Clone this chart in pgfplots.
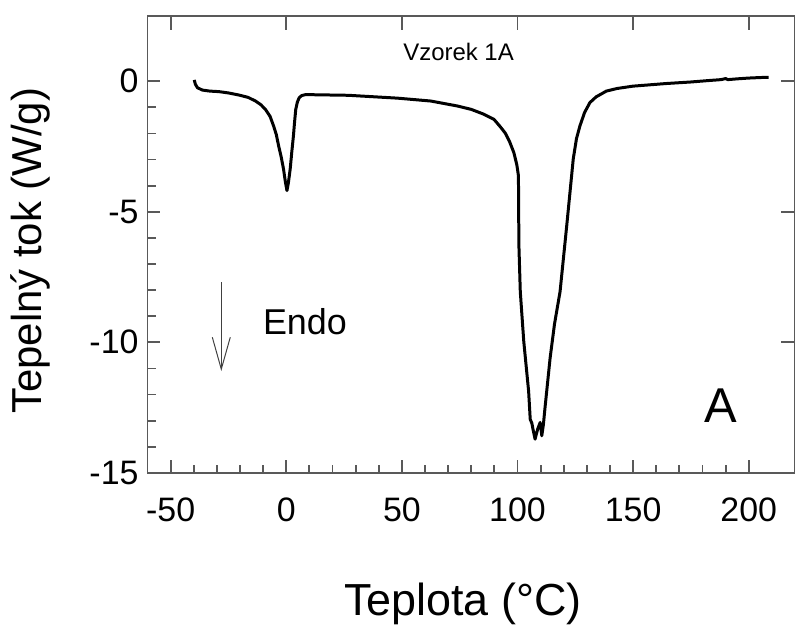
\documentclass[border=0pt]{standalone}
\usepackage{pgfplots}
\pgfplotsset{compat=1.18}
\usepackage{fontspec}
\setmainfont{Liberation Sans}
\usetikzlibrary{arrows.meta}

\pgfplotsset{
  dscbox/.style={
    scale only axis,
    width=324.5pt, height=229pt,
    xmin=-60, xmax=220,
    ymin=-15, ymax=2.5,
    axis line style={draw=black!65, line width=0.9pt},
    tick style={draw=black!65, line width=0.9pt},
    tick align=inside,
  }
}

\begin{document}
\begin{tikzpicture}
  % top and right: major ticks only, no labels
  \begin{axis}[
    dscbox,
    xtick={-50,0,...,200},
    ytick={-15,-10,-5,0},
    xtick pos=right, ytick pos=right,
    xticklabels={}, yticklabels={},
    major tick length=7pt,
  ]
  \end{axis}

  \begin{axis}[
    dscbox,
    xtick={-50,0,...,200},
    ytick={-15,-10,-5,0},
    minor x tick num=4,
    minor y tick num=4,
    xtick pos=left, ytick pos=left,
    major tick length=6.5pt,
    minor tick length=4pt,
    /pgf/number format/assume math mode=true,
    ticklabel style={font=\fontsize{17}{20}\selectfont},
    xticklabel shift=9pt,
    yticklabel shift=1pt,
    xlabel={Teplota (°C)},
    ylabel={Tepelný tok (W/g)},
    xlabel style={font=\fontsize{22.5}{26}\selectfont,
      at={(axis description cs:0.487,-0.312)}, anchor=base},
    ylabel style={font=\fontsize{21}{25}\selectfont,
      at={(axis description cs:-0.163,0.486)}, anchor=base},
    clip=false,
  ]
  \addplot[black, line width=1.5pt, line join=round] coordinates {
    (-39.8,0.05) (-39.3,-0.12) (-38.4,-0.25) (-36.3,-0.34) (-33,-0.38)
    (-29.1,-0.40) (-25,-0.45) (-20.5,-0.53) (-16.5,-0.62) (-13.3,-0.76)
    (-11,-0.90) (-9.0,-1.08) (-7,-1.35) (-5.5,-1.71) (-4.3,-2.05)
    (-3.3,-2.48) (-2.2,-2.90) (-1.2,-3.36) (-0.4,-3.85) (0.3,-4.19)
    (0.9,-3.9) (1.7,-3.36) (2.4,-2.7) (3.1,-2.09) (3.6,-1.55)
    (4.1,-1.08) (4.8,-0.80) (5.6,-0.63) (6.7,-0.55) (8.5,-0.51)
    (12.5,-0.52) (26.8,-0.54) (48.2,-0.65) (62.5,-0.76) (74,-0.95)
    (80,-1.08) (85,-1.25) (89.8,-1.46) (92.6,-1.75) (94.8,-2.0)
    (96.5,-2.3) (98.4,-2.73) (99.7,-3.2) (100.4,-3.62) (100.5,-5)
    (100.6,-6.28) (101.2,-8.06) (102.7,-9.96) (103.4,-10.6) (104.8,-11.87)
    (105.5,-12.95) (106.2,-13.1) (106.7,-13.33) (107.6,-13.71) (108.2,-13.5)
    (108.7,-13.33) (109.8,-13.07) (110.5,-13.58) (111.2,-13.14) (111.9,-12.50)
    (114.1,-10.60) (116,-9.3) (118.4,-8.06) (121.3,-5.52) (124.1,-2.98)
    (125.5,-2.2) (127,-1.71) (129,-1.2) (131.3,-0.82) (134,-0.6)
    (138.4,-0.38) (143,-0.28) (149.9,-0.19) (164.2,-0.09) (175,-0.03)
    (182,0.02) (188,0.06) (190,0.10) (191,0.06) (195,0.09)
    (200,0.12) (205,0.14) (208.6,0.15)
  };
  \node[anchor=base, font=\fontsize{12}{14}\selectfont] at (axis cs:74.5,0.79) {Vzorek 1A};
  \node[anchor=base west, font=\fontsize{18}{21}\selectfont] at (axis cs:-13.1,-9.69) {Endo};
  \node[anchor=base, font=\fontsize{24.5}{28}\selectfont] at (axis cs:187.8,-13.06) {A};
  \draw[black!75, line width=0.5pt, -{Straight Barb[length=16pt,width=9pt]}]
    (axis cs:-28.1,-7.7) -- (axis cs:-28.1,-11.1);
  \coordinate (bl) at (axis cs:-123.8,-20.88);
  \coordinate (tr) at (axis cs:220,3.11);
  \end{axis}
  \pgfresetboundingbox
  \path[use as bounding box] (bl) rectangle (tr);
\end{tikzpicture}
\end{document}
